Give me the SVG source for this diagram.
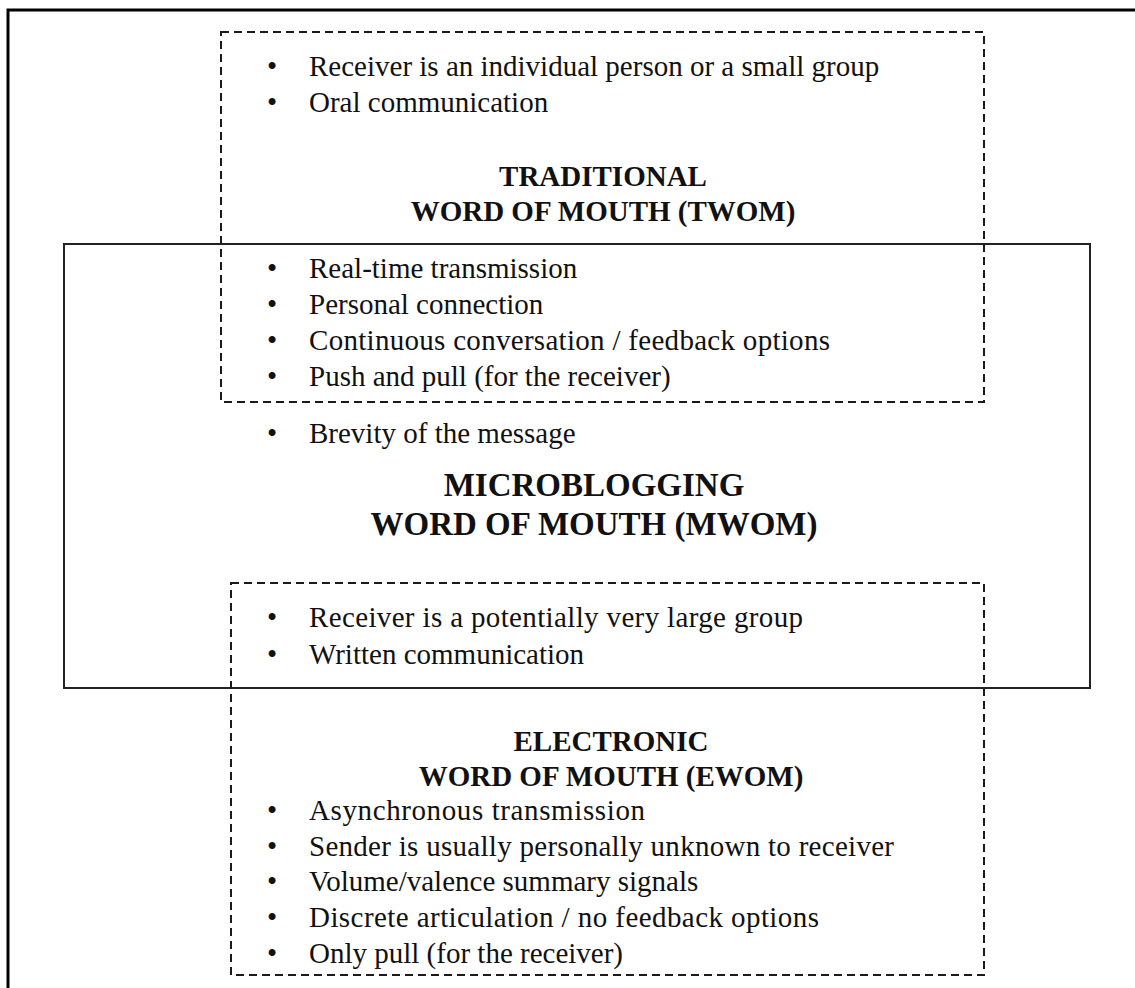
<svg xmlns="http://www.w3.org/2000/svg" width="1135" height="988" viewBox="0 0 1135 988">
<style>
.frame{fill:none;stroke:#000;stroke-width:3}
.dash{fill:none;stroke:#1a1a1a;stroke-width:2;stroke-dasharray:8 5}
.solid{fill:none;stroke:#222;stroke-width:2}
.t{font-family:"Liberation Serif","Times New Roman",serif;font-size:29px;fill:#111}
.b{font-family:"Liberation Serif","Times New Roman",serif;font-size:29px;fill:#111}
.h{font-family:"Liberation Serif","Times New Roman",serif;font-weight:bold;font-size:29px;fill:#111;text-anchor:middle}
.hl{font-family:"Liberation Serif","Times New Roman",serif;font-weight:bold;font-size:33px;fill:#111;text-anchor:middle}
</style>
<rect width="1135" height="988" fill="#fff"/>
<rect class="frame" x="8" y="10" width="1140" height="1000"/>
<g id="connectors"></g>
<g id="mwom">
<rect class="solid" x="64" y="244" width="1026" height="444"/>
<text class="b" x="267" y="443">•</text><text class="t" x="309" y="443">Brevity of the message</text>
<text class="hl" x="594" y="496">MICROBLOGGING</text>
<text class="hl" x="594" y="535">WORD OF MOUTH (MWOM)</text>
</g>
<g id="twom">
<rect class="dash" x="221" y="32" width="763" height="370"/>
<text class="b" x="267" y="76">•</text><text class="t" x="309" y="76">Receiver is an individual person or a small group</text>
<text class="b" x="267" y="112">•</text><text class="t" x="309" y="112">Oral communication</text>
<text class="h" x="603" y="186">TRADITIONAL</text>
<text class="h" x="603" y="221">WORD OF MOUTH (TWOM)</text>
<text class="b" x="267" y="278">•</text><text class="t" x="309" y="278">Real-time transmission</text>
<text class="b" x="267" y="314">•</text><text class="t" x="309" y="314">Personal connection</text>
<text class="b" x="267" y="350">•</text><text class="t" x="309" y="350" textLength="521" lengthAdjust="spacing">Continuous conversation / feedback options</text>
<text class="b" x="267" y="386">•</text><text class="t" x="309" y="386">Push and pull (for the receiver)</text>
</g>
<g id="ewom">
<rect class="dash" x="231" y="583" width="753" height="392"/>
<text class="b" x="267" y="627">•</text><text class="t" x="309" y="627" textLength="494" lengthAdjust="spacing">Receiver is a potentially very large group</text>
<text class="b" x="267" y="664">•</text><text class="t" x="309" y="664">Written communication</text>
<text class="h" x="611" y="751">ELECTRONIC</text>
<text class="h" x="611" y="786">WORD OF MOUTH (EWOM)</text>
<text class="b" x="267" y="820">•</text><text class="t" x="309" y="820" textLength="336" lengthAdjust="spacing">Asynchronous transmission</text>
<text class="b" x="267" y="856">•</text><text class="t" x="309" y="856" textLength="585" lengthAdjust="spacing">Sender is usually personally unknown to receiver</text>
<text class="b" x="267" y="891">•</text><text class="t" x="309" y="891">Volume/valence summary signals</text>
<text class="b" x="267" y="927">•</text><text class="t" x="309" y="927" textLength="510" lengthAdjust="spacing">Discrete articulation / no feedback options</text>
<text class="b" x="267" y="963">•</text><text class="t" x="309" y="963">Only pull (for the receiver)</text>
</g>
</svg>
